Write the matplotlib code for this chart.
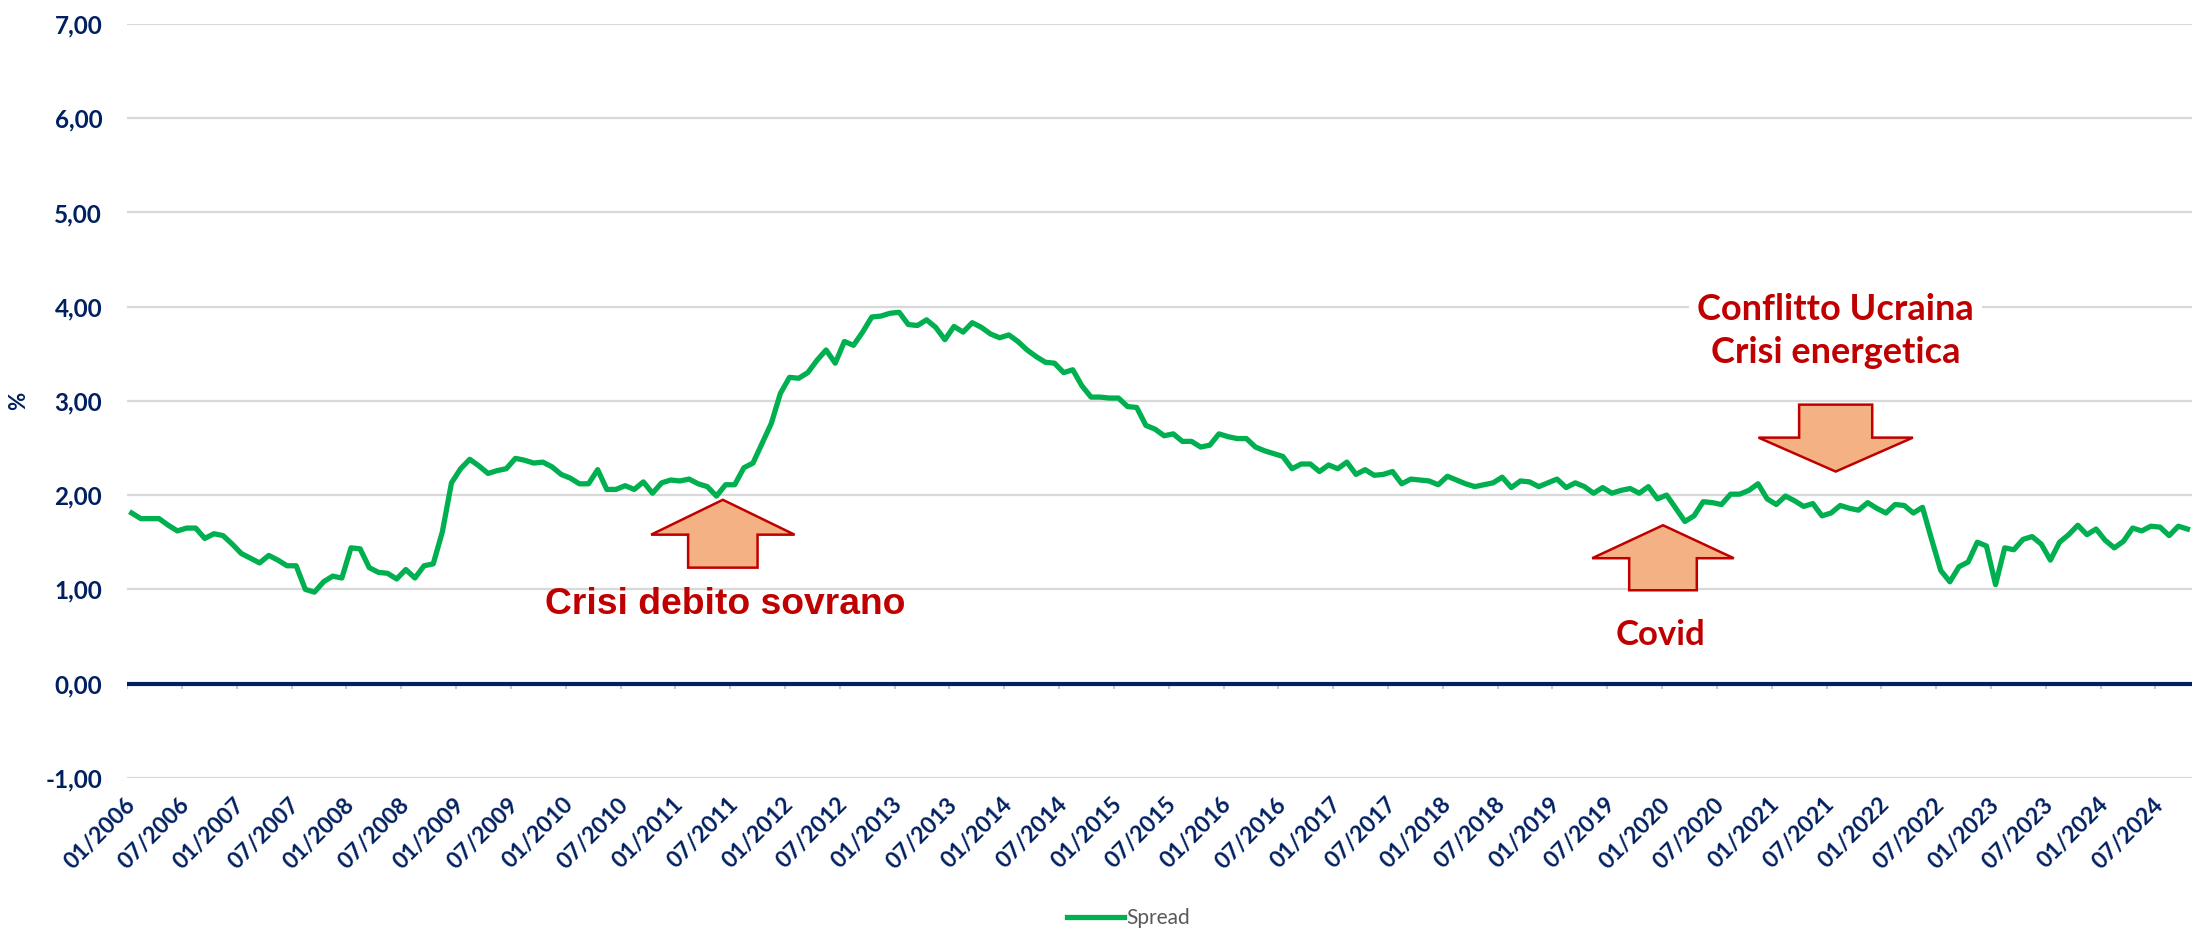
import numpy as np
import pandas as pd
import matplotlib
matplotlib.use("Agg")
import matplotlib.pyplot as plt
from matplotlib.patches import Polygon

# Spread mensile (%), 01/2006 - 10/2024
spread_2006 = [1.81, 1.75, 1.75, 1.75, 1.68, 1.62, 1.65, 1.65, 1.54, 1.59, 1.57, 1.48]
spread_2007 = [1.38, 1.33, 1.28, 1.36, 1.31, 1.25, 1.25, 1.00, 0.97, 1.08, 1.14, 1.12]
spread_2008 = [1.44, 1.43, 1.23, 1.18, 1.17, 1.11, 1.21, 1.12, 1.25, 1.27, 1.61, 2.13]
spread_2009 = [2.28, 2.38, 2.31, 2.23, 2.26, 2.28, 2.39, 2.37, 2.34, 2.35, 2.30, 2.22]
spread_2010 = [2.18, 2.12, 2.12, 2.27, 2.06, 2.06, 2.10, 2.06, 2.14, 2.02, 2.13, 2.16]
spread_2011 = [2.15, 2.17, 2.12, 2.09, 1.99, 2.11, 2.11, 2.29, 2.34, 2.55, 2.76, 3.08]
spread_2012 = [3.25, 3.24, 3.30, 3.43, 3.54, 3.40, 3.63, 3.59, 3.73, 3.89, 3.90, 3.93]
spread_2013 = [3.94, 3.81, 3.80, 3.86, 3.78, 3.65, 3.79, 3.73, 3.83, 3.78, 3.71, 3.67]
spread_2014 = [3.70, 3.63, 3.54, 3.47, 3.41, 3.40, 3.30, 3.33, 3.16, 3.04, 3.04, 3.03]
spread_2015 = [3.03, 2.94, 2.93, 2.74, 2.70, 2.63, 2.65, 2.57, 2.57, 2.51, 2.53, 2.65]
spread_2016 = [2.62, 2.60, 2.60, 2.51, 2.47, 2.44, 2.41, 2.28, 2.33, 2.33, 2.25, 2.32]
spread_2017 = [2.28, 2.35, 2.22, 2.27, 2.21, 2.22, 2.25, 2.12, 2.17, 2.16, 2.15, 2.11]
spread_2018 = [2.20, 2.16, 2.12, 2.09, 2.11, 2.13, 2.19, 2.08, 2.15, 2.14, 2.09, 2.13]
spread_2019 = [2.17, 2.08, 2.13, 2.09, 2.02, 2.08, 2.02, 2.05, 2.07, 2.02, 2.09, 1.96]
spread_2020 = [2.00, 1.86, 1.72, 1.78, 1.93, 1.92, 1.90, 2.01, 2.01, 2.05, 2.12, 1.96]
spread_2021 = [1.90, 1.99, 1.94, 1.88, 1.91, 1.78, 1.81, 1.89, 1.86, 1.84, 1.92, 1.86]
spread_2022 = [1.81, 1.90, 1.89, 1.81, 1.87, 1.53, 1.20, 1.08, 1.24, 1.29, 1.50, 1.46]
spread_2023 = [1.05, 1.44, 1.42, 1.53, 1.56, 1.48, 1.31, 1.50, 1.58, 1.68, 1.58, 1.64]
spread_2024 = [1.52, 1.44, 1.51, 1.65, 1.62, 1.67, 1.66, 1.57, 1.67, 1.64]

spread = (spread_2006 + spread_2007 + spread_2008 + spread_2009 + spread_2010
          + spread_2011 + spread_2012 + spread_2013 + spread_2014 + spread_2015
          + spread_2016 + spread_2017 + spread_2018 + spread_2019 + spread_2020
          + spread_2021 + spread_2022 + spread_2023 + spread_2024)

months = pd.date_range("2006-01-01", periods=len(spread), freq="MS")
month_labels = [d.strftime("%m/%Y") for d in months]

y_ticks = [-1, 0, 1, 2, 3, 4, 5, 6, 7]

NAVY = "#002060"
RED = "#C00000"
ORANGE = "#F4B183"
GREEN = "#00B050"

fig = plt.figure(figsize=(21.92, 9.30), dpi=100)
ax = fig.add_axes([0.058, 0.1637, 0.942, 0.8105])

x = np.arange(len(spread))
ax.plot(x, spread, color=GREEN, lw=3.8, solid_joinstyle="round", label="Spread", zorder=4)
ax.axhline(0, color=NAVY, lw=3, zorder=3)
# piccole tacche dell'asse categorie
ax.vlines(np.arange(0, len(spread) + 1, 6) - 0.5, -0.06, 0, color="#BFBFBF", lw=1.2, zorder=2)

ax.set_xlim(-0.5, len(spread) - 0.5)
ax.set_ylim(-1, 7)
ax.set_yticks(y_ticks)
ax.set_yticklabels([f"{v:.2f}".replace(".", ",") for v in y_ticks],
                   fontsize=17.5, fontweight="bold", color=NAVY, family="Lato")
ax.yaxis.grid(True, color="#D9D9D9", lw=1.6, zorder=0)
ax.set_axisbelow(True)

ax.set_xticks(x[::6])
ax.set_xticklabels(month_labels[::6], rotation=45, ha="right", va="center",
                   rotation_mode="anchor", fontsize=16.5, fontweight="bold",
                   color=NAVY, family="Lato")
ax.tick_params(axis="both", length=0)
ax.tick_params(axis="y", pad=18)
ax.tick_params(axis="x", pad=17)
for s in ax.spines.values():
    s.set_visible(False)

ax.set_ylabel("%", fontsize=16, fontweight="bold", color=NAVY, family="Lato")
ax.yaxis.set_label_coords(-0.0474, 0.5)


def block_arrow(cx, tip, head_base, end, head_hw, shaft_hw):
    pts = [(cx, tip), (cx + head_hw, head_base), (cx + shaft_hw, head_base),
           (cx + shaft_hw, end), (cx - shaft_hw, end), (cx - shaft_hw, head_base),
           (cx - head_hw, head_base)]
    ax.add_patch(Polygon(pts, closed=True, facecolor=ORANGE, edgecolor=RED,
                         lw=1.8, zorder=5))


block_arrow(64.7, 1.95, 1.58, 1.23, 7.85, 3.8)
block_arrow(167.6, 1.68, 1.33, 0.99, 7.75, 3.7)
block_arrow(186.5, 2.25, 2.61, 2.96, 8.45, 4.0)

ax.text(65.0, 0.84, "Crisi debito sovrano", ha="center", va="center", fontsize=26.8,
        fontweight="bold", color=RED, family="Liberation Sans", zorder=6)
ax.text(167.3, 0.51, "Covid", ha="center", va="center", fontsize=25,
        fontweight="bold", color=RED, family="Lato", zorder=6)
ax.text(186.5, 3.744, "Conflitto Ucraina\nCrisi energetica", ha="center", va="center",
        fontsize=26, fontweight="bold", color=RED, family="Lato", linespacing=1.38,
        zorder=6, bbox=dict(facecolor="white", edgecolor="none", pad=6))

fig.legend(loc="center", bbox_to_anchor=(0.515, 0.013), frameon=False,
           prop={"family": "Lato", "size": 15}, labelcolor="#595959",
           handlelength=2.7, handletextpad=0.15)

fig.savefig("out.png", dpi=100)
